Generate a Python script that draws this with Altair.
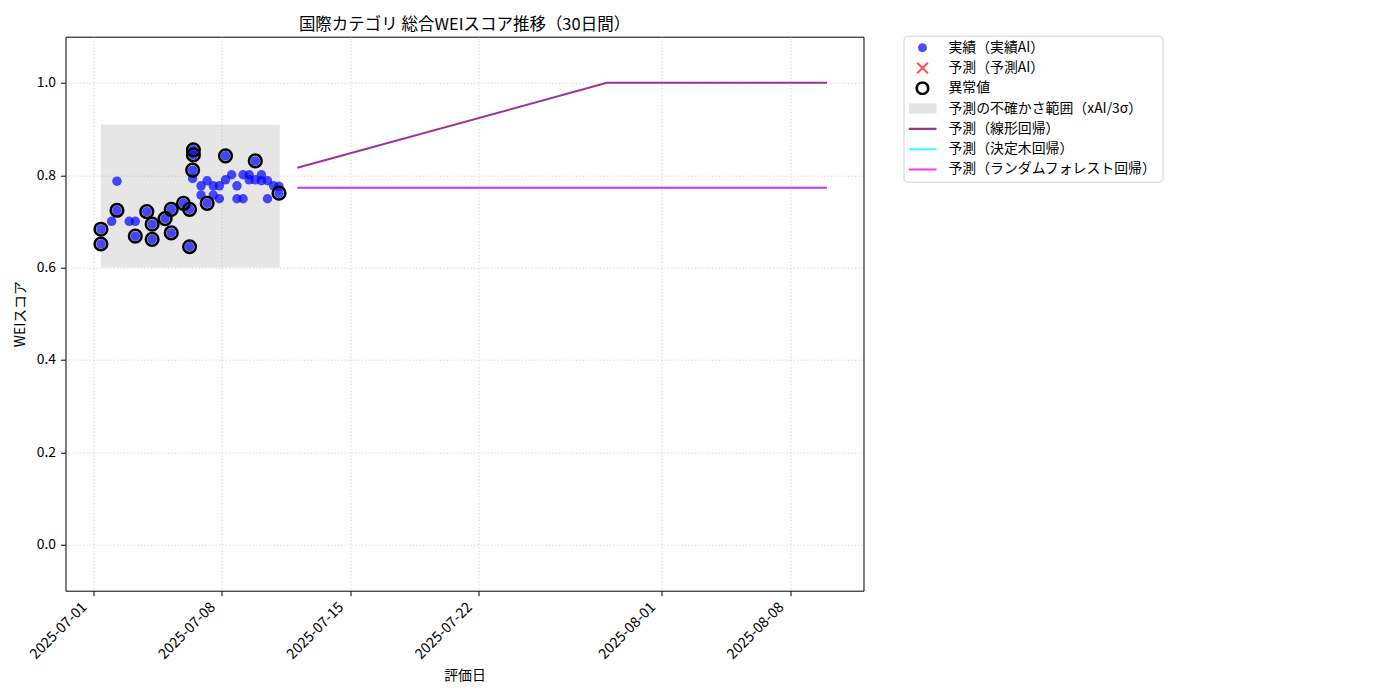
import altair as alt
import pandas as pd

FONT = "Noto Sans CJK JP"

title_text = "国際カテゴリ 総合WEIスコア推移（30日間）"
x_title = "評価日"
y_title = "WEIスコア"

# actual observations (all points)
actual_times = [
    "2025-07-01T10:00", "2025-07-01T10:00", "2025-07-02T00:00", "2025-07-02T07:00",
    "2025-07-02T07:00", "2025-07-02T23:00", "2025-07-03T07:00", "2025-07-03T07:00",
    "2025-07-03T22:00", "2025-07-04T05:00", "2025-07-04T05:00", "2025-07-04T22:00",
    "2025-07-05T06:00", "2025-07-05T06:00", "2025-07-05T22:00", "2025-07-06T06:00",
    "2025-07-06T06:00", "2025-07-06T11:00", "2025-07-06T11:00", "2025-07-06T10:00",
    "2025-07-06T10:00", "2025-07-06T21:00", "2025-07-06T21:00", "2025-07-07T05:00",
    "2025-07-07T05:00", "2025-07-07T13:00", "2025-07-07T13:00", "2025-07-07T21:00",
    "2025-07-07T21:00", "2025-07-08T05:00", "2025-07-08T05:00", "2025-07-08T13:00",
    "2025-07-08T20:00", "2025-07-08T20:00", "2025-07-09T04:00", "2025-07-09T04:00",
    "2025-07-09T12:00", "2025-07-09T12:00", "2025-07-09T20:00", "2025-07-09T20:00",
    "2025-07-10T04:00", "2025-07-10T04:00", "2025-07-10T12:00", "2025-07-10T12:00",
    "2025-07-10T20:00", "2025-07-11T03:00", "2025-07-11T03:00",
]
actual_values = [
    0.683, 0.651, 0.700, 0.787,
    0.724, 0.700, 0.700, 0.668,
    0.721, 0.694, 0.661, 0.706,
    0.726, 0.675, 0.739, 0.726,
    0.645, 0.855, 0.844, 0.811,
    0.793, 0.777, 0.757, 0.788,
    0.739, 0.777, 0.757, 0.777,
    0.749, 0.790, 0.842, 0.801,
    0.777, 0.749, 0.801, 0.749,
    0.801, 0.790, 0.790, 0.831,
    0.801, 0.788, 0.788, 0.749,
    0.777, 0.761, 0.776,
]

# anomalies
anomaly_times = [
    "2025-07-01T10:00", "2025-07-01T10:00", "2025-07-02T07:00", "2025-07-03T07:00",
    "2025-07-03T22:00", "2025-07-04T05:00", "2025-07-04T05:00", "2025-07-04T22:00",
    "2025-07-05T06:00", "2025-07-05T06:00", "2025-07-05T22:00", "2025-07-06T06:00",
    "2025-07-06T06:00", "2025-07-06T11:00", "2025-07-06T11:00", "2025-07-06T10:00",
    "2025-07-07T05:00", "2025-07-08T05:00", "2025-07-09T20:00", "2025-07-11T03:00",
]
anomaly_values = [
    0.683, 0.651, 0.724, 0.668,
    0.721, 0.694, 0.661, 0.706,
    0.726, 0.675, 0.739, 0.726,
    0.645, 0.855, 0.844, 0.811,
    0.739, 0.842, 0.831, 0.761,
]

# uncertainty band
band_start = ["2025-07-01T10:00"]
band_end = ["2025-07-11T04:00"]
band_low = [0.60]
band_high = [0.91]

# forecasts
linear_times = ["2025-07-12T03:00", "2025-07-29T00:00", "2025-08-10T00:00"]
linear_values = [0.816, 1.0, 1.0]
tree_times = ["2025-07-12T03:00", "2025-08-10T00:00"]
tree_values = [0.773, 0.773]
rf_times = ["2025-07-12T03:00", "2025-08-10T00:00"]
rf_values = [0.773, 0.773]

legend_labels = [
    "実績（実績AI）", "予測（予測AI）", "異常値", "予測の不確かさ範囲（xAI/3σ）",
    "予測（線形回帰）", "予測（決定木回帰）", "予測（ランダムフォレスト回帰）",
]
legend_colors = ["#4d4dff", "#ff4d4d", "#000000", "#e3e3e3", "#993399", "#33ffff", "#ff33ff"]
legend_shapes = [
    "M-0.32,0A0.32,0.32 0 1,1 0.32,0A0.32,0.32 0 1,1 -0.32,0Z",
    "M-0.43,-0.33L0.33,0.43L0.43,0.33L-0.33,-0.43Z"
    "M-0.33,0.43L0.43,-0.33L0.33,-0.43L-0.43,0.33Z",
    "M-0.5,0A0.5,0.5 0 1,1 0.5,0A0.5,0.5 0 1,1 -0.5,0Z"
    "M-0.32,0A0.32,0.32 0 1,0 0.32,0A0.32,0.32 0 1,0 -0.32,0Z",
    "M-1,-0.36L1,-0.36L1,0.36L-1,0.36Z",
    "M-1,-0.075L1,-0.075L1,0.075L-1,0.075Z",
    "M-1,-0.075L1,-0.075L1,0.075L-1,0.075Z",
    "M-1,-0.075L1,-0.075L1,0.075L-1,0.075Z",
]

x_ticks = [(2025, 7, 1), (2025, 7, 8), (2025, 7, 15), (2025, 7, 22), (2025, 8, 1), (2025, 8, 8)]
y_ticks = [0.0, 0.2, 0.4, 0.6, 0.8, 1.0]
x_domain = [(2025, 6, 29, 11, 40), (2025, 8, 11, 23, 45)]
y_domain = [-0.1, 1.1]

x_tick_dt = [alt.DateTime(year=y, month=m, date=d) for (y, m, d) in x_ticks]
x_dom_dt = [alt.DateTime(year=y, month=m, date=d, hours=h, minutes=mi) for (y, m, d, h, mi) in x_domain]

x_axis = alt.Axis(values=x_tick_dt, format="%Y-%m-%d", labelAngle=-45, labelAlign="right",
                  labelBaseline="bottom", labelPadding=14, labelOffset=-4, tickSize=5,
                  titlePadding=7, grid=True, domain=False, labelOverlap=False, labelFlush=False,
                  labelFontSize=14.3)
y_axis = alt.Axis(values=y_ticks, format=".1f", tickSize=5, labelPadding=5, titlePadding=9,
                  grid=True, domain=False, labelOverlap=False, labelFlush=False)


def xenc(field="日時"):
    return alt.X(f"{field}:T", scale=alt.Scale(domain=x_dom_dt), axis=x_axis, title=x_title)


def yenc(field="値"):
    return alt.Y(f"{field}:Q", scale=alt.Scale(domain=y_domain), axis=y_axis, title=y_title)


actual_df = pd.DataFrame({"日時": actual_times, "値": actual_values})
anomaly_df = pd.DataFrame({"日時": anomaly_times, "値": anomaly_values})
band_df = pd.DataFrame({"日時": band_start, "終了": band_end, "値": band_low, "上限": band_high})
linear_df = pd.DataFrame({"日時": linear_times, "値": linear_values})
tree_df = pd.DataFrame({"日時": tree_times, "値": tree_values})
rf_df = pd.DataFrame({"日時": rf_times, "値": rf_values})
legend_df = pd.DataFrame({"系列": legend_labels})

band = alt.Chart(band_df).mark_rect(color="#808080", opacity=0.2).encode(
    x=xenc(), x2="終了:T", y=yenc(), y2="上限:Q"
)
actual = alt.Chart(actual_df).mark_circle(color="blue", opacity=0.7, size=90).encode(
    x=xenc(), y=yenc()
)
linear = alt.Chart(linear_df).mark_line(color="purple", opacity=0.8, strokeWidth=2).encode(
    x=xenc(), y=yenc()
)
tree = alt.Chart(tree_df).mark_line(color="cyan", opacity=0.8, strokeWidth=2).encode(
    x=xenc(), y=yenc()
)
rf = alt.Chart(rf_df).mark_line(color="magenta", opacity=0.8, strokeWidth=2).encode(
    x=xenc(), y=yenc()
)
anomalies = alt.Chart(anomaly_df).mark_point(shape="circle", filled=False, color="black",
                                             strokeWidth=2.5, size=160, opacity=1).encode(
    x=xenc(), y=yenc()
)

leg = alt.Legend(orient="none", legendX=838, legendY=-1, symbolSize=784, clipHeight=14,
                 rowPadding=6.3, padding=5, labelOffset=12, symbolOffset=0,
                 labelFont=FONT, labelFontSize=13.9, labelColor="black", labelLimit=400,
                 strokeColor="#d0d0d0", fillColor="white", cornerRadius=4,
                 symbolStrokeWidth=0, symbolOpacity=1)

legend_layer = alt.Chart(legend_df).mark_point(filled=True, opacity=0).encode(
    color=alt.Color("系列:N", scale=alt.Scale(domain=legend_labels, range=legend_colors),
                    legend=leg, title=None),
    shape=alt.Shape("系列:N", scale=alt.Scale(domain=legend_labels, range=legend_shapes),
                    legend=leg, title=None),
)

chart = alt.layer(band, actual, linear, tree, rf, anomalies, legend_layer).properties(
    width=798, height=554,
    title=title_text,
    autosize=alt.AutoSizeParams(type="none"),
    padding={"left": 57.5, "top": 28.7, "right": 520, "bottom": 100},
).configure_axis(
    labelFont=FONT, titleFont=FONT, labelFontSize=13.9, titleFontSize=13.9,
    titleFontWeight="normal", labelColor="black", titleColor="black",
    tickColor="black", tickWidth=1, gridColor="#c8c8c8", gridDash=[1.2, 2.2], gridWidth=0.8,
).configure_view(
    stroke="black", strokeWidth=1
).configure_title(
    font=FONT, fontSize=16.5, fontWeight="normal", color="black", anchor="middle",
    offset=2, baseline="alphabetic"
)

chart.save("out.html", embed_options={"renderer": "svg", "actions": False})
